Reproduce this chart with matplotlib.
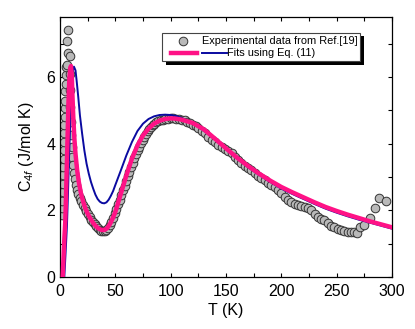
import matplotlib
matplotlib.use('Agg')
import matplotlib.pyplot as plt
from matplotlib.ticker import MultipleLocator
from matplotlib.lines import Line2D
from matplotlib.patches import Rectangle
from matplotlib.offsetbox import (AnchoredOffsetbox, DrawingArea, TextArea,
                                  HPacker, VPacker)

plt.rcParams['font.family'] = ['Liberation Sans', 'DejaVu Sans']
plt.rcParams['mathtext.fontset'] = 'custom'
plt.rcParams['mathtext.rm'] = 'Liberation Sans'
plt.rcParams['mathtext.it'] = 'Liberation Sans:italic'

# experimental data (Ref. [19])
T_exp = [1.8, 2.0, 2.2, 2.4, 2.6, 2.8, 3.0, 3.2, 3.4, 3.6, 3.8, 4.0, 4.2, 4.4,
         4.6, 4.8, 5.0, 5.3, 5.6, 6.3, 6.9, 8.7, 6.6, 7.5,
         8.6, 8.9, 9.2, 9.5, 9.9, 10.4, 11.0, 11.7, 12.5, 13.4, 14.4, 15.5,
         16.7, 18.0, 19.4, 20.8, 22.3, 23.8, 25.3, 26.8, 28.3, 29.8, 31.3,
         32.8, 34.3, 35.8, 37.3, 38.8, 40.3, 41.8, 43.3, 44.8, 46.3, 47.8,
         49.3, 50.8, 52.3, 53.8, 55.3, 56.8, 58.3, 59.8, 61.3, 62.8, 64.3,
         65.8, 67.3, 68.8, 70.3, 71.8, 73.3, 74.8, 76.3, 77.8, 79.3, 80.8,
         82.3, 83.8, 85.3, 87, 89, 91, 93, 95, 97.5, 100, 102.5, 105, 107.5,
         110, 112.5, 115, 117.5, 120, 122.5, 125, 128, 131, 134, 137, 140,
         143, 146, 149, 152, 155, 158, 161, 164, 167, 170, 173, 176, 179,
         182, 185, 188, 191, 194, 197, 200, 203, 206, 209, 212, 215, 218,
         221, 224, 227, 230, 233, 236, 239, 242, 245, 248, 251, 254, 257,
         260, 263, 266, 268.5, 271, 275, 280, 284.5, 288.5, 295]
C_exp = [1.85, 2.07, 2.28, 2.56, 2.78, 3.06, 3.31, 3.53, 3.82, 4.04, 4.31,
         4.56, 4.79, 5.06, 5.28, 5.57, 5.8, 6.06, 6.3, 6.36, 6.71, 6.64,
         7.08, 7.41,
         6.1, 5.6, 5.1, 4.65, 4.25, 3.9, 3.6, 3.35, 3.12, 2.93, 2.77, 2.62,
         2.5, 2.38, 2.27, 2.16, 2.06, 1.97, 1.88, 1.8, 1.72, 1.65, 1.58,
         1.52, 1.47, 1.42, 1.39, 1.37, 1.37, 1.4, 1.47, 1.56, 1.66, 1.78,
         1.91, 2.04, 2.18, 2.32, 2.46, 2.6, 2.74, 2.88, 3.02, 3.16, 3.3,
         3.43, 3.56, 3.68, 3.8, 3.91, 4.02, 4.12, 4.21, 4.29, 4.37, 4.44,
         4.5, 4.55, 4.6, 4.64, 4.67, 4.7, 4.72, 4.74, 4.75, 4.76, 4.76, 4.75,
         4.74, 4.72, 4.7, 4.66, 4.62, 4.57, 4.52, 4.46, 4.39, 4.31, 4.21,
         4.11, 4.04, 3.97, 3.91, 3.84, 3.77, 3.71, 3.61, 3.51, 3.41, 3.34,
         3.27, 3.21, 3.11, 3.02, 2.96, 2.9, 2.83, 2.76, 2.7, 2.6, 2.51, 2.41,
         2.32, 2.26, 2.19, 2.16, 2.13, 2.1, 2.06, 2.01, 1.9, 1.79, 1.74, 1.7,
         1.63, 1.54, 1.49, 1.44, 1.4, 1.37, 1.36, 1.36, 1.34, 1.31, 1.49,
         1.56, 1.76, 2.06, 2.36, 2.28]

# fit 1 (magenta, thick)
T_fit1 = [2.4, 3.2, 4.0, 4.8, 5.5, 6.2, 7.0, 7.7, 8.4, 9.2, 9.9, 10.6, 11.3,
          12.0, 13.0, 14.0, 15.5, 17.0, 19.0, 21.0, 23.0, 25.0, 27.5, 30.0,
          32.5, 35.0, 37.5, 40.0, 42.5, 45.0, 47.5, 50, 55, 60, 65, 70, 75,
          80, 85, 90, 95, 100, 105, 110, 120, 130, 140, 150, 160, 170, 180,
          190, 200, 210, 220, 230, 240, 250, 260, 270, 280, 290, 300]
C_fit1 = [0.0, 0.6, 1.2, 1.7, 2.5, 3.4, 4.4, 5.3, 5.9, 6.25, 6.33, 6.1, 5.4,
          4.8, 4.15, 3.7, 3.2, 2.85, 2.5, 2.25, 2.05, 1.9, 1.75, 1.62,
          1.52, 1.45, 1.41, 1.41, 1.46, 1.58, 1.75, 1.95, 2.5, 3.05, 3.55,
          3.95, 4.25, 4.45, 4.6, 4.69, 4.74, 4.76, 4.75, 4.72, 4.62, 4.43,
          4.15, 3.86, 3.58, 3.33, 3.1, 2.89, 2.7, 2.54, 2.39, 2.24, 2.1,
          1.98, 1.87, 1.77, 1.67, 1.58, 1.49]

# fit 2 (navy)
T_fit2 = [3.9, 5.0, 6.3, 7.2, 8.0, 8.8, 9.6, 10.4, 11.3, 12.6, 14.0, 15.0,
          16.5, 18.0, 20.0, 22.0, 24.0, 26.0, 28.0, 30.0, 32.0, 34.0, 36.0,
          38.0, 40.0, 42.0, 44.0, 46.0, 48.0, 50, 55, 60, 65, 70, 75, 80, 85,
          90, 95, 100, 105, 110, 120, 130, 140, 150, 160, 170, 180, 190, 200,
          210, 220, 230, 240, 250, 260, 270, 280, 290, 300]
C_fit2 = [0.0, 0.7, 1.56, 2.5, 3.4, 4.2, 5.0, 5.7, 6.15, 6.31, 6.2, 5.9,
          5.4, 4.85, 4.3, 3.8, 3.4, 3.1, 2.85, 2.65, 2.47, 2.34, 2.26, 2.22,
          2.21, 2.24, 2.32, 2.44, 2.58, 2.76, 3.2, 3.65, 4.05, 4.38, 4.6,
          4.74, 4.82, 4.86, 4.87, 4.86, 4.83, 4.77, 4.6, 4.39, 4.12, 3.83,
          3.55, 3.29, 3.06, 2.85, 2.65, 2.49, 2.34, 2.19, 2.05, 1.93, 1.82,
          1.72, 1.63, 1.54, 1.45]

labels = ['Experimental data from Ref.[19]', 'Fits using Eq. (11)']
pink = '#ff1286'
navy = '#0a0aa0'
gray = '#b9b9b9'

fig = plt.figure(figsize=(4.15, 3.29), dpi=100)
ax = fig.add_axes([60/415, 1-277/329, 332/415, 260/329])

ax.plot(T_exp, C_exp, 'o', ms=6.2, mfc=gray, mec='#333333', mew=0.7, zorder=2)
ax.plot(T_fit2, C_fit2, color=navy, lw=1.4, zorder=3)
ax.plot(T_fit1, C_fit1, color=pink, lw=3.2, zorder=4)

ax.set_xlim(0, 300)
ax.set_ylim(0, 7.8)
ax.xaxis.set_major_locator(MultipleLocator(50))
ax.xaxis.set_minor_locator(MultipleLocator(25))
ax.yaxis.set_major_locator(MultipleLocator(2))
ax.yaxis.set_minor_locator(MultipleLocator(1))
ax.tick_params(which='both', direction='in', top=True, right=True,
               length=3, width=0.8, labelsize=11.5)
ax.tick_params(axis='x', pad=5)
for s in ax.spines.values():
    s.set_linewidth(0.9)

ax.set_xlabel('T (K)', fontsize=11.5, labelpad=3)
ax.set_ylabel(r'C$_{4\mathit{f}}$ (J/mol K)', fontsize=11.5, labelpad=7)

# legend: two hand-built rows in a square box
px = 0.72  # pixel -> point at 100 dpi
da1 = DrawingArea(38*px, 12*px)
da1.add_artist(Line2D([19*px], [6*px], ls='none', marker='o', ms=6.2,
                      mfc=gray, mec='#333333', mew=0.7))
da2 = DrawingArea(63*px, 12*px)
da2.add_artist(Line2D([7*px, 33*px], [6*px, 6*px], color=pink, lw=3.2))
da2.add_artist(Line2D([38*px, 63*px], [6*px, 6*px], color=navy, lw=1.4))
t1 = TextArea(labels[0], textprops=dict(size=7.9))
t2 = TextArea(labels[1], textprops=dict(size=7.9))
rows = VPacker(children=[HPacker(children=[da1, t1], sep=0, align='center'),
                         HPacker(children=[da2, t2], sep=0, align='center')],
               sep=0, align='left')
box = AnchoredOffsetbox(loc='upper left', child=rows, pad=0.15, borderpad=0,
                        frameon=True, bbox_to_anchor=(0.307, 0.9385),
                        bbox_transform=ax.transAxes)
box.patch.set_boxstyle('square', pad=0)
box.patch.set_linewidth(0.8)
box.patch.set_edgecolor('#444444')
box.set_zorder(6)
ax.add_artist(box)

# solid black drop shadow behind the legend box
fig.canvas.draw()
bb = box.get_window_extent(fig.canvas.get_renderer())
bb = bb.translated(4, -3.5).transformed(ax.transAxes.inverted())
ax.add_patch(Rectangle((bb.x0, bb.y0), bb.width, bb.height, facecolor='black',
                       edgecolor='none', transform=ax.transAxes, zorder=5,
                       clip_on=False))

fig.savefig('out.png', dpi=100)
